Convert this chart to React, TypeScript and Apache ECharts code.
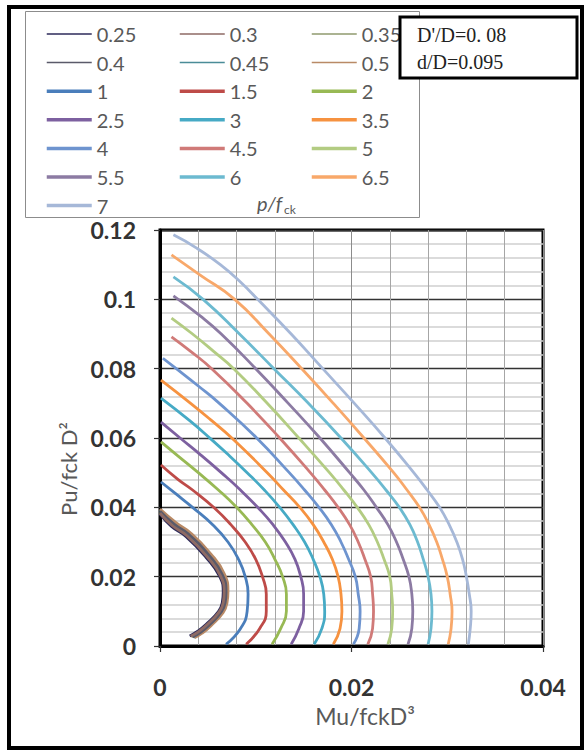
import React, { useEffect, useRef } from 'react';
import * as echarts from 'echarts';

// ---- data (Mu/fckD^3, Pu/fckD^2) ----
const p025 = [[0.0000,0.0380],[0.0012,0.0345],[0.0027,0.0316],[0.0048,0.0256],[0.0062,0.0202],[0.0066,0.0155],[0.0065,0.0125],[0.0061,0.0099],[0.0048,0.0062],[0.0039,0.0042],[0.0031,0.0029]];
const p030 = [[0.0000,0.0383],[0.0013,0.0347],[0.0028,0.0318],[0.0049,0.0258],[0.0063,0.0203],[0.0067,0.0155],[0.0066,0.0125],[0.0062,0.0099],[0.0049,0.0061],[0.0040,0.0041],[0.0032,0.0028]];
const p035 = [[0.0000,0.0386],[0.0014,0.0349],[0.0029,0.0320],[0.0050,0.0260],[0.0064,0.0205],[0.0068,0.0156],[0.0067,0.0125],[0.0063,0.0098],[0.0050,0.0060],[0.0041,0.0040],[0.0033,0.0027]];
const p040 = [[0.0000,0.0389],[0.0015,0.0351],[0.0030,0.0322],[0.0051,0.0262],[0.0065,0.0206],[0.0069,0.0156],[0.0068,0.0125],[0.0064,0.0098],[0.0051,0.0059],[0.0042,0.0039],[0.0034,0.0026]];
const p045 = [[0.0000,0.0392],[0.0016,0.0353],[0.0031,0.0324],[0.0052,0.0264],[0.0066,0.0208],[0.0070,0.0157],[0.0069,0.0125],[0.0065,0.0097],[0.0052,0.0058],[0.0043,0.0038],[0.0035,0.0025]];
const p050 = [[0.0000,0.0395],[0.0017,0.0355],[0.0032,0.0326],[0.0053,0.0266],[0.0067,0.0209],[0.0071,0.0157],[0.0070,0.0125],[0.0066,0.0097],[0.0053,0.0058],[0.0044,0.0037],[0.0036,0.0024]];
const p100 = [[0.0001,0.0473],[0.0016,0.0440],[0.0034,0.0400],[0.0055,0.0350],[0.0071,0.0300],[0.0082,0.0250],[0.0089,0.0200],[0.0092,0.0150],[0.0091,0.0100],[0.0084,0.0050],[0.0069,0.0005]];
const p150 = [[0.0001,0.0522],[0.0019,0.0480],[0.0034,0.0450],[0.0056,0.0400],[0.0074,0.0350],[0.0089,0.0300],[0.0100,0.0250],[0.0107,0.0200],[0.0111,0.0150],[0.0111,0.0100],[0.0104,0.0050],[0.0090,0.0005]];
const p200 = [[0.0001,0.0589],[0.0018,0.0550],[0.0040,0.0500],[0.0061,0.0450],[0.0080,0.0400],[0.0096,0.0350],[0.0110,0.0300],[0.0120,0.0250],[0.0128,0.0200],[0.0132,0.0150],[0.0132,0.0100],[0.0126,0.0050],[0.0117,0.0005]];
const p250 = [[0.0001,0.0646],[0.0021,0.0600],[0.0043,0.0550],[0.0064,0.0500],[0.0084,0.0450],[0.0102,0.0400],[0.0118,0.0350],[0.0131,0.0300],[0.0141,0.0250],[0.0147,0.0200],[0.0150,0.0150],[0.0150,0.0100],[0.0145,0.0050],[0.0137,0.0005]];
const p300 = [[0.0001,0.0715],[0.0031,0.0650],[0.0052,0.0600],[0.0072,0.0550],[0.0091,0.0500],[0.0109,0.0450],[0.0125,0.0400],[0.0139,0.0350],[0.0151,0.0300],[0.0160,0.0250],[0.0167,0.0200],[0.0171,0.0150],[0.0172,0.0100],[0.0169,0.0050],[0.0161,0.0005]];
const p350 = [[0.0001,0.0767],[0.0032,0.0700],[0.0054,0.0650],[0.0075,0.0600],[0.0112,0.0500],[0.0129,0.0450],[0.0146,0.0400],[0.0160,0.0350],[0.0171,0.0300],[0.0180,0.0250],[0.0186,0.0200],[0.0189,0.0150],[0.0190,0.0100],[0.0188,0.0050],[0.0181,0.0005]];
const p400 = [[0.0003,0.0830],[0.0017,0.0800],[0.0040,0.0750],[0.0062,0.0700],[0.0101,0.0600],[0.0135,0.0500],[0.0151,0.0450],[0.0166,0.0400],[0.0179,0.0350],[0.0189,0.0300],[0.0197,0.0250],[0.0204,0.0200],[0.0207,0.0150],[0.0209,0.0100],[0.0208,0.0050],[0.0202,0.0005]];
const p450 = [[0.0012,0.0892],[0.0032,0.0850],[0.0054,0.0800],[0.0091,0.0700],[0.0125,0.0600],[0.0157,0.0500],[0.0172,0.0450],[0.0186,0.0400],[0.0198,0.0350],[0.0207,0.0300],[0.0214,0.0250],[0.0220,0.0200],[0.0222,0.0150],[0.0223,0.0100],[0.0222,0.0050],[0.0217,0.0005]];
const p500 = [[0.0012,0.0946],[0.0034,0.0900],[0.0056,0.0850],[0.0077,0.0800],[0.0112,0.0700],[0.0145,0.0600],[0.0177,0.0500],[0.0192,0.0450],[0.0206,0.0400],[0.0218,0.0350],[0.0227,0.0300],[0.0234,0.0250],[0.0240,0.0200],[0.0242,0.0150],[0.0243,0.0100],[0.0242,0.0050],[0.0238,0.0005]];
const p550 = [[0.0014,0.1010],[0.0043,0.0950],[0.0064,0.0900],[0.0100,0.0800],[0.0134,0.0700],[0.0167,0.0600],[0.0198,0.0500],[0.0213,0.0450],[0.0226,0.0400],[0.0238,0.0350],[0.0247,0.0300],[0.0254,0.0250],[0.0260,0.0200],[0.0263,0.0150],[0.0264,0.0100],[0.0263,0.0050],[0.0259,0.0005]];
const p600 = [[0.0014,0.1065],[0.0045,0.1000],[0.0083,0.0900],[0.0119,0.0800],[0.0155,0.0700],[0.0189,0.0600],[0.0221,0.0500],[0.0236,0.0450],[0.0250,0.0400],[0.0261,0.0350],[0.0269,0.0300],[0.0275,0.0250],[0.0280,0.0200],[0.0283,0.0150],[0.0284,0.0100],[0.0283,0.0050],[0.0280,0.0005]];
const p650 = [[0.0012,0.1128],[0.0042,0.1070],[0.0078,0.1000],[0.0114,0.0900],[0.0148,0.0800],[0.0181,0.0700],[0.0213,0.0600],[0.0244,0.0500],[0.0258,0.0450],[0.0271,0.0400],[0.0281,0.0350],[0.0289,0.0300],[0.0295,0.0250],[0.0300,0.0200],[0.0303,0.0150],[0.0305,0.0100],[0.0304,0.0050],[0.0301,0.0005]];
const p700 = [[0.0014,0.1186],[0.0037,0.1150],[0.0063,0.1100],[0.0084,0.1050],[0.0102,0.1000],[0.0137,0.0900],[0.0170,0.0800],[0.0203,0.0700],[0.0235,0.0600],[0.0265,0.0500],[0.0279,0.0450],[0.0292,0.0400],[0.0302,0.0350],[0.0310,0.0300],[0.0316,0.0250],[0.0320,0.0200],[0.0323,0.0150],[0.0325,0.0100],[0.0324,0.0050],[0.0322,0.0005]];

const seriesNames = ['0.25','0.3','0.35','0.4','0.45','0.5','1','1.5','2','2.5','3','3.5','4','4.5','5','5.5','6','6.5','7'];
const seriesData = [p025,p030,p035,p040,p045,p050,p100,p150,p200,p250,p300,p350,p400,p450,p500,p550,p600,p650,p700];
const seriesColors = ['#2C2A5A','#8E6A64','#8F9A6E','#5A5A6A','#4A8C98','#B98A66',
  '#4A7EBB','#BE4B48','#98B954','#7D60A0','#46AAC5','#F69240',
  '#6E94CF','#D07A78','#B3CC82','#8C7BA3','#6CBAD0','#F8A86A','#A6B8D8'];
const thinSeries = ['0.25','0.3','0.35','0.4','0.45','0.5'];
// drawing order of the overlapping thin curves (later = on top)
const thinOrder = ['0.35','0.45','0.5','0.25','0.4','0.3'];

const legendCol1 = ['0.25','0.4','1','2.5','4','5.5','7'];
const legendCol2 = ['0.3','0.45','1.5','3','4.5','6'];
const legendCol3 = ['0.35','0.5','2','3.5','5','6.5'];

const xMin = 0, xMax = 0.04, xStep = 0.02;
const yMin = 0, yMax = 0.12, yStep = 0.02;

const xTitle = 'Mu/fckD³';
const yTitle = 'Pu/fck D²';
const noteLine1 = "D'/D=0. 08";
const noteLine2 = 'd/D=0.095';

const FONT = 'Lato';

function mkLegend(names: string[], left: number) {
  return {
    data: names.map((n) => ({ name: n, lineStyle: { width: thinSeries.indexOf(n) >= 0 ? 1.5 : 3.5 } })),
    left, top: 24, orient: 'vertical', padding: 0,
    itemWidth: 45, itemHeight: 14, itemGap: 8.6,
    selectedMode: false,
    itemStyle: { opacity: 0 },
    lineStyle: { width: 'inherit' },
    textStyle: { color: '#595959', fontSize: 20, fontFamily: FONT, lineHeight: 20 },
  };
}

export default function App() {
  const ref = useRef<HTMLDivElement>(null);
  useEffect(() => {
    const chart = echarts.init(ref.current!, null, { renderer: 'svg' });
    const series = seriesNames.map((name, i) => {
      const ti = thinOrder.indexOf(name);
      return {
        name, type: 'line', data: seriesData[i],
        symbol: 'none', showSymbol: false, smooth: 0.5,
        color: seriesColors[i],
        lineStyle: { color: seriesColors[i], width: 2.8 },
        emphasis: { disabled: true },
        z: ti >= 0 ? 2 + ti * 0.1 : 3,
      };
    });
    const option: any = {
      animation: false,
      backgroundColor: '#fff',
      grid: { left: 160, top: 230, width: 383, height: 416, show: true, borderColor: '#000', borderWidth: 3, backgroundColor: '#fff' },
      xAxis: {
        type: 'value', min: xMin, max: xMax, interval: xStep,
        axisLine: { show: true, lineStyle: { color: '#000', width: 3 } },
        axisTick: { show: true, length: 6, lineStyle: { color: '#333', width: 1.2 } },
        axisLabel: { margin: 29, color: '#333', fontSize: 23, fontWeight: 'bold', fontFamily: FONT },
        splitLine: { show: true, lineStyle: { color: '#8c8c8c', width: 1 } },
        minorTick: { show: false, splitNumber: 5 },
        minorSplitLine: { show: true, lineStyle: { color: '#a6a6a6', width: 1 } },
      },
      yAxis: {
        type: 'value', min: yMin, max: yMax, interval: yStep,
        axisLine: { show: true, lineStyle: { color: '#000', width: 3 } },
        axisTick: { show: true, length: 6, lineStyle: { color: '#333', width: 1.2 } },
        axisLabel: { margin: 24, color: '#333', fontSize: 23, fontWeight: 'bold', fontFamily: FONT },
        splitLine: { show: true, lineStyle: { color: '#333', width: 1.3 } },
        minorTick: { show: false, splitNumber: 5 },
        minorSplitLine: { show: true, lineStyle: { color: '#cfcfcf', width: 1.5 } },
      },
      legend: [mkLegend(legendCol1, 45), mkLegend(legendCol2, 178), mkLegend(legendCol3, 310)],
      series,
      graphic: [
        { type: 'rect', z: 1, shape: { x: 25.5, y: 11.5, width: 394, height: 206 }, style: { fill: '#fff', stroke: '#8c8c8c', lineWidth: 1 } },
        { type: 'text', z: 5, x: 257, y: 203, style: { text: 'p/f', font: `italic 20px ${FONT}`, fill: '#595959', verticalAlign: 'middle' } },
        { type: 'text', z: 5, x: 284, y: 209, style: { text: 'ck', font: `12px ${FONT}`, fill: '#595959', verticalAlign: 'middle' } },
        { type: 'rect', z: 100, shape: { x: 400, y: 17, width: 177, height: 61 }, style: { fill: '#fff', stroke: '#000', lineWidth: 3 } },
        { type: 'text', z: 101, x: 417, y: 35, style: { text: noteLine1, font: '20px "Liberation Serif"', fill: '#222', verticalAlign: 'middle' } },
        { type: 'text', z: 101, x: 417, y: 62, style: { text: noteLine2, font: '20px "Liberation Serif"', fill: '#222', verticalAlign: 'middle' } },
        { type: 'text', z: 5, x: 365, y: 716, style: { text: xTitle, font: `23px ${FONT}`, fill: '#595959', align: 'center', verticalAlign: 'middle' } },
        { type: 'text', z: 5, x: 68, y: 469, rotation: Math.PI / 2, style: { text: yTitle, font: `22px ${FONT}`, fill: '#595959', align: 'center', verticalAlign: 'middle' } },
        { type: 'rect', z: 100, shape: { x: 9, y: 7, width: 573, height: 741 }, style: { fill: 'none', stroke: '#000', lineWidth: 4 } },
      ],
    };
    chart.setOption(option);
    return () => chart.dispose();
  }, []);
  return <div ref={ref} style={{ position: 'fixed', left: 0, top: 0, width: 587, height: 752, background: '#fff' }} />;
}
